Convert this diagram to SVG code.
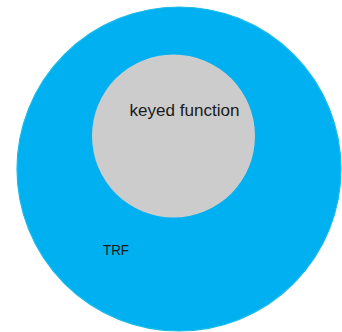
<svg xmlns="http://www.w3.org/2000/svg" width="342" height="332" viewBox="0 0 342 332">
  <style>
    .label { font-family: "Liberation Sans", Arial, sans-serif; fill: #1a1a1a; }
  </style>
  <rect width="342" height="332" fill="#ffffff"/>
  <!-- outer set -->
  <g id="trf">
    <circle cx="179" cy="169" r="162" fill="#00b0f0" stroke="#1cbbe8" stroke-width="1.2"/>
    <text class="label" x="103" y="255" font-size="14.5" textLength="26" lengthAdjust="spacingAndGlyphs">TRF</text>
  </g>
  <!-- inner set -->
  <g id="keyed-function">
    <circle cx="173.5" cy="136" r="81.5" fill="#cccccc"/>
    <text class="label" x="129.5" y="116" font-size="16" textLength="110" lengthAdjust="spacingAndGlyphs">keyed function</text>
  </g>
  <g id="connectors"/>
</svg>
